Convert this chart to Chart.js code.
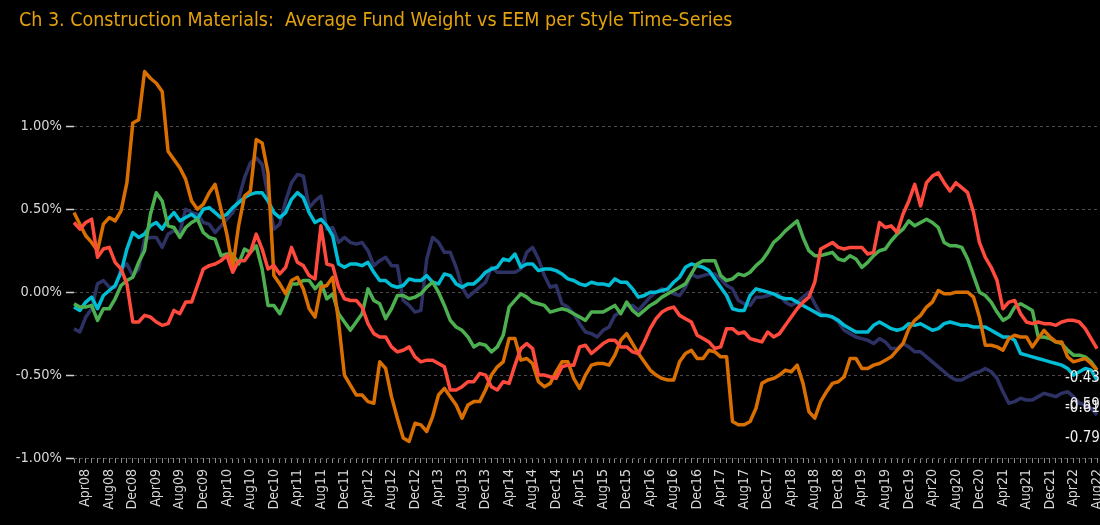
<!DOCTYPE html>
<html>
<head>
<meta charset="utf-8">
<script src="https://cdn.jsdelivr.net/npm/chart.js@4.4.1/dist/chart.umd.min.js"></script>
<style>
  html, body { margin: 0; padding: 0; background: #000; }
  #wrap { width: 1100px; height: 525px; }
</style>
</head>
<body>
<div id="wrap"><canvas id="chart"></canvas></div>
<script>
// monthly series, Feb08 .. Aug22
const START_YEAR = 2008, START_MONTH = 1, N_MONTHS = 175;
const MONTH_NAMES = ['Jan','Feb','Mar','Apr','May','Jun','Jul','Aug','Sep','Oct','Nov','Dec'];

const TICK_LABELS = [
  'Apr08','Aug08','Dec08','Apr09','Aug09','Dec09','Apr10','Aug10','Dec10','Apr11','Aug11','Dec11',
  'Apr12','Aug12','Dec12','Apr13','Aug13','Dec13','Apr14','Aug14','Dec14','Apr15','Aug15','Dec15',
  'Apr16','Aug16','Dec16','Apr17','Aug17','Dec17','Apr18','Aug18','Dec18','Apr19','Aug19','Dec19',
  'Apr20','Aug20','Dec20','Apr21','Aug21','Dec21','Apr22','Aug22'
];

const Y_TICKS = [-1, -0.5, 0, 0.5, 1];

const TITLE = 'Ch 3. Construction Materials:  Average Fund Weight vs EEM per Style Time-Series';

const RED = [
  0.42, 0.38, 0.42, 0.44, 0.21, 0.26, 0.27, 0.18, 0.14, 0.05,
  -0.18, -0.18, -0.14, -0.15, -0.18, -0.20, -0.19, -0.11, -0.13, -0.06,
  -0.06, 0.04, 0.14, 0.16, 0.17, 0.19, 0.22, 0.12, 0.19, 0.19,
  0.24, 0.35, 0.26, 0.14, 0.16, 0.11, 0.15, 0.27, 0.18, 0.16,
  0.10, 0.08, 0.40, 0.17, 0.16, 0.03, -0.04, -0.05, -0.05, -0.09,
  -0.19, -0.25, -0.27, -0.27, -0.33, -0.36, -0.35, -0.33, -0.39, -0.42,
  -0.41, -0.41, -0.43, -0.45, -0.59, -0.59, -0.57, -0.54, -0.54, -0.49,
  -0.50, -0.57, -0.59, -0.54, -0.55, -0.44, -0.34, -0.31, -0.34, -0.50,
  -0.50, -0.51, -0.52, -0.45, -0.44, -0.44, -0.33, -0.32, -0.37, -0.34,
  -0.31, -0.29, -0.29, -0.33, -0.33, -0.36, -0.37, -0.30, -0.22, -0.16,
  -0.12, -0.10, -0.09, -0.14, -0.16, -0.18, -0.26, -0.28, -0.30, -0.34,
  -0.33, -0.22, -0.22, -0.25, -0.24, -0.28, -0.29, -0.30, -0.24, -0.27,
  -0.25, -0.20, -0.15, -0.10, -0.06, -0.03, 0.06, 0.26, 0.28, 0.30,
  0.27, 0.26, 0.27, 0.27, 0.27, 0.23, 0.24, 0.42, 0.39, 0.40,
  0.36, 0.47, 0.55, 0.65, 0.52, 0.66, 0.70, 0.72, 0.66, 0.61,
  0.66, 0.63, 0.60, 0.48, 0.30, 0.21, 0.15, 0.07, -0.10, -0.06,
  -0.05, -0.13, -0.18, -0.19, -0.18, -0.19, -0.19, -0.20, -0.18, -0.17,
  -0.17, -0.18, -0.22, -0.28, -0.34
];

const ORANGE = [
  0.48, 0.41, 0.34, 0.30, 0.25, 0.41, 0.45, 0.43, 0.49, 0.66,
  1.02, 1.04, 1.33, 1.29, 1.26, 1.21, 0.85, 0.80, 0.75, 0.68,
  0.55, 0.50, 0.53, 0.60, 0.65, 0.50, 0.35, 0.15, 0.40, 0.58,
  0.61, 0.92, 0.90, 0.72, 0.10, 0.05, -0.01, 0.07, 0.09, 0.02,
  -0.10, -0.15, 0.03, 0.04, 0.09, -0.18, -0.50, -0.56, -0.62, -0.62,
  -0.66, -0.67, -0.42, -0.46, -0.63, -0.76, -0.88, -0.90, -0.79, -0.80,
  -0.84, -0.75, -0.62, -0.58, -0.63, -0.68, -0.76, -0.68, -0.66, -0.66,
  -0.59, -0.50, -0.45, -0.42, -0.28, -0.28, -0.41, -0.40, -0.43, -0.54,
  -0.57, -0.55, -0.48, -0.42, -0.42, -0.52, -0.58, -0.50, -0.44, -0.43,
  -0.43, -0.44, -0.38, -0.29, -0.25, -0.31, -0.37, -0.42, -0.47, -0.50,
  -0.52, -0.53, -0.53, -0.42, -0.37, -0.35, -0.40, -0.40, -0.35, -0.36,
  -0.39, -0.39, -0.78, -0.80, -0.80, -0.78, -0.70, -0.55, -0.53, -0.52,
  -0.50, -0.47, -0.48, -0.44, -0.55, -0.72, -0.76, -0.66, -0.60, -0.55,
  -0.54, -0.51, -0.40, -0.40, -0.46, -0.46, -0.44, -0.43, -0.41, -0.39,
  -0.35, -0.31, -0.22, -0.17, -0.14, -0.09, -0.06, 0.01, -0.01, -0.01,
  0.00, 0.00, 0.00, -0.03, -0.15, -0.32, -0.32, -0.33, -0.35, -0.28,
  -0.26, -0.27, -0.27, -0.33, -0.28, -0.23, -0.27, -0.30, -0.30, -0.39,
  -0.42, -0.41, -0.40, -0.43, -0.47
];

const GREEN = [
  -0.07, -0.09, -0.09, -0.08, -0.17, -0.10, -0.10, -0.04, 0.04, 0.07,
  0.09, 0.18, 0.25, 0.47, 0.60, 0.55, 0.40, 0.39, 0.33, 0.39,
  0.42, 0.44, 0.36, 0.33, 0.32, 0.22, 0.23, 0.23, 0.17, 0.26,
  0.24, 0.28, 0.14, -0.08, -0.08, -0.13, -0.05, 0.05, 0.05, 0.07,
  0.07, 0.02, 0.06, -0.04, -0.01, -0.13, -0.18, -0.23, -0.18, -0.13,
  0.02, -0.05, -0.07, -0.16, -0.10, -0.02, -0.02, -0.04, -0.03, -0.01,
  0.03, 0.06, 0.00, -0.08, -0.17, -0.21, -0.23, -0.27, -0.33, -0.31,
  -0.32, -0.36, -0.33, -0.26, -0.09, -0.05, -0.01, -0.03, -0.06, -0.07,
  -0.08, -0.12, -0.11, -0.10, -0.11, -0.13, -0.15, -0.17, -0.12, -0.12,
  -0.12, -0.10, -0.08, -0.13, -0.06, -0.11, -0.14, -0.11, -0.08, -0.06,
  -0.03, -0.01, 0.01, 0.03, 0.05, 0.11, 0.17, 0.19, 0.19, 0.19,
  0.10, 0.07, 0.08, 0.11, 0.10, 0.12, 0.16, 0.19, 0.24, 0.30,
  0.33, 0.37, 0.40, 0.43, 0.33, 0.25, 0.22, 0.22, 0.23, 0.24,
  0.20, 0.19, 0.22, 0.20, 0.15, 0.18, 0.22, 0.25, 0.26, 0.31,
  0.35, 0.38, 0.43, 0.40, 0.42, 0.44, 0.42, 0.39, 0.30, 0.28,
  0.28, 0.27, 0.20, 0.10, 0.00, -0.02, -0.06, -0.12, -0.17, -0.15,
  -0.09, -0.07, -0.09, -0.11, -0.27, -0.27, -0.28, -0.30, -0.31, -0.35,
  -0.38, -0.38, -0.39, -0.42, -0.47
];

const CYAN = [
  -0.09, -0.11, -0.06, -0.03, -0.10, -0.02, 0.01, 0.04, 0.12, 0.26,
  0.36, 0.33, 0.35, 0.40, 0.42, 0.38, 0.44, 0.48, 0.43, 0.45,
  0.47, 0.44, 0.50, 0.51, 0.48, 0.45, 0.47, 0.51, 0.54, 0.57,
  0.59, 0.60, 0.60, 0.55, 0.48, 0.45, 0.48, 0.56, 0.60, 0.57,
  0.48, 0.42, 0.44, 0.40, 0.34, 0.17, 0.15, 0.17, 0.17, 0.16,
  0.18, 0.12, 0.07, 0.07, 0.04, 0.03, 0.04, 0.08, 0.07, 0.07,
  0.10, 0.06, 0.05, 0.11, 0.10, 0.05, 0.03, 0.05, 0.05, 0.08,
  0.12, 0.14, 0.15, 0.20, 0.19, 0.23, 0.15, 0.17, 0.17, 0.13,
  0.14, 0.14, 0.13, 0.11, 0.08, 0.07, 0.05, 0.04, 0.06, 0.05,
  0.05, 0.04, 0.08, 0.06, 0.06, 0.02, -0.03, -0.02, 0.00, 0.00,
  0.01, 0.02, 0.06, 0.09, 0.15, 0.17, 0.16, 0.15, 0.13, 0.08,
  0.03, -0.02, -0.10, -0.11, -0.11, -0.02, 0.02, 0.01, 0.00, -0.01,
  -0.03, -0.04, -0.04, -0.06, -0.08, -0.10, -0.12, -0.14, -0.14, -0.15,
  -0.17, -0.20, -0.22, -0.24, -0.24, -0.24, -0.20, -0.18, -0.20, -0.22,
  -0.23, -0.22, -0.19, -0.20, -0.19, -0.21, -0.23, -0.22, -0.19, -0.18,
  -0.19, -0.20, -0.20, -0.21, -0.21, -0.21, -0.23, -0.25, -0.27, -0.27,
  -0.29, -0.37, -0.38, -0.39, -0.40, -0.41, -0.42, -0.43, -0.44, -0.46,
  -0.50, -0.48, -0.46, -0.47, -0.53
];

const NAVY = [
  -0.22, -0.24, -0.15, -0.10, 0.05, 0.07, 0.03, 0.03, 0.14, 0.17,
  0.10, 0.14, 0.32, 0.33, 0.33, 0.27, 0.35, 0.37, 0.36, 0.50,
  0.48, 0.47, 0.42, 0.41, 0.36, 0.40, 0.44, 0.48, 0.56, 0.69,
  0.78, 0.81, 0.77, 0.58, 0.38, 0.41, 0.55, 0.66, 0.71, 0.70,
  0.51, 0.55, 0.58, 0.38, 0.39, 0.30, 0.33, 0.30, 0.29, 0.30,
  0.25, 0.16, 0.19, 0.21, 0.16, 0.16, -0.05, -0.08, -0.12, -0.11,
  0.20, 0.33, 0.30, 0.24, 0.24, 0.15, 0.03, -0.03, 0.00, 0.03,
  0.06, 0.15, 0.12, 0.12, 0.12, 0.12, 0.14, 0.24, 0.27, 0.20,
  0.10, 0.03, 0.04, -0.07, -0.09, -0.13, -0.19, -0.24, -0.25, -0.27,
  -0.23, -0.21, -0.14, -0.12, -0.08, -0.08, -0.11, -0.07, -0.03, 0.00,
  0.02, 0.01, -0.01, -0.02, 0.03, 0.11, 0.09, 0.10, 0.11, 0.11,
  0.08, 0.04, 0.02, -0.05, -0.07, -0.08, -0.03, -0.03, -0.02, -0.01,
  -0.02, -0.06, -0.08, -0.06, -0.03, 0.00, -0.07, -0.13, -0.14, -0.15,
  -0.18, -0.23, -0.25, -0.27, -0.28, -0.29, -0.31, -0.28, -0.30, -0.34,
  -0.34, -0.31, -0.33, -0.36, -0.36, -0.39, -0.42, -0.45, -0.48, -0.51,
  -0.53, -0.53, -0.51, -0.49, -0.48, -0.46, -0.48, -0.52, -0.60, -0.67,
  -0.66, -0.64, -0.65, -0.65, -0.63, -0.61, -0.62, -0.63, -0.61, -0.60,
  -0.63, -0.67, -0.68, -0.70, -0.74
];

// value labels printed at the right edge (red has none visible)
const END_LABELS = [null, -0.43, -0.61, -0.59, -0.79];

const SERIES = [RED, ORANGE, GREEN, CYAN, NAVY];
const COLORS = ['#ff4a3d', '#d96f00', '#4caf50', '#00bcd4', '#2d3163'];

const months = [];
for (let i = 0; i < N_MONTHS; i++) {
    const m = (START_MONTH + i) % 12;
    const y = START_YEAR + Math.floor((START_MONTH + i) / 12);
    months.push(MONTH_NAMES[m] + String(y % 100).padStart(2, '0'));
}

const FONT = '"DejaVu Sans Condensed", "Liberation Sans Narrow", sans-serif';
Chart.defaults.font.family = FONT;

// title drawn by hand so it can sit left of the y-axis box
const titlePlugin = {
    id: 'leftTitle',
    afterDraw(chart) {
        const ctx = chart.ctx;
        ctx.save();
        ctx.font = '19.5px ' + FONT;
        ctx.fillStyle = '#e3a20b';
        ctx.textBaseline = 'middle';
        ctx.fillText(TITLE, 19, 21);
        ctx.restore();
    }
};

const endLabels = {
    id: 'endLabels',
    afterDatasetsDraw(chart) {
        const {ctx, chartArea, scales: {y}} = chart;
        ctx.save();
        ctx.font = '15px ' + FONT;
        ctx.fillStyle = '#f0f0f0';
        ctx.textBaseline = 'middle';
        END_LABELS.forEach(v => {
            if (v === null) return;
            ctx.fillText(v.toFixed(2), chartArea.right - 32, y.getPixelForValue(v) + 15);
        });
        ctx.restore();
    }
};

new Chart(document.getElementById('chart'), {
    type: 'line',
    data: {
        labels: months,
        datasets: SERIES.map((s, i) => ({
            data: s,
            borderColor: COLORS[i],
            backgroundColor: COLORS[i],
            borderWidth: 3.5,
            borderJoinStyle: 'round',
            pointRadius: 0,
            tension: 0,
            fill: false,
        })),
    },
    options: {
        responsive: true,
        maintainAspectRatio: false,
        animation: false,
        layout: {padding: {left: 0, right: 0, top: 60, bottom: 0}},
        scales: {
            x: {
                grid: {
                    drawOnChartArea: false,
                    tickLength: 5,
                    tickColor: '#8a8a8a',
                    tickWidth: 1,
                },
                border: {display: false},
                ticks: {
                    autoSkip: false,
                    minRotation: 90,
                    maxRotation: 90,
                    padding: 6,
                    color: '#d8d8d8',
                    font: {size: 14},
                    callback: function (val) {
                        const l = this.getLabelForValue(val);
                        return TICK_LABELS.includes(l) ? l : '';
                    },
                },
                afterFit(s) {
                    s.height = 67;
                    s.paddingRight = 3;
                    s.paddingLeft = 0;
                },
            },
            y: {
                min: -1,
                max: 1.4,
                afterBuildTicks(s) {
                    s.ticks = Y_TICKS.map(v => ({value: v}));
                },
                afterFit(s) {
                    s.width = 74;
                },
                grid: {
                    color: '#4a4a4a',
                    lineWidth: 1,
                    tickLength: 8,
                    tickColor: '#cfcfcf',
                    tickWidth: 1.5,
                    tickBorderDash: [],
                },
                border: {display: false, dash: [3, 3]},
                ticks: {
                    color: '#d8d8d8',
                    font: {size: 14.5},
                    padding: 4,
                    callback: v => v.toFixed(2) + '%',
                },
            },
        },
        plugins: {
            legend: {display: false},
            tooltip: {enabled: false},
            title: {display: false},
        },
    },
    plugins: [titlePlugin, endLabels],
});
</script>
</body>
</html>
